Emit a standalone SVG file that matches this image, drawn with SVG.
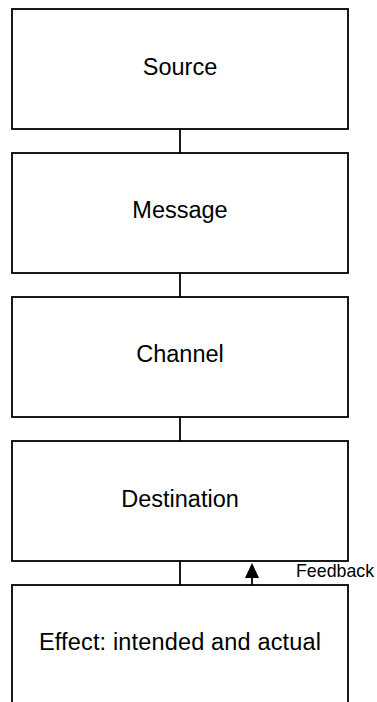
<svg xmlns="http://www.w3.org/2000/svg" width="377" height="702" viewBox="0 0 377 702">
<style>
.box{fill:#fff;stroke:#000;stroke-width:1.8}
.lbl{font-family:"Liberation Sans",Arial,sans-serif;font-size:23.5px;fill:#000;text-anchor:middle}
.fb{font-family:"Liberation Sans",Arial,sans-serif;font-size:17.8px;fill:#000}
.con{stroke:#000;stroke-width:1.8;fill:none}
</style>
<rect width="377" height="702" fill="#fff"/>
<g id="connectors">
<line class="con" x1="180" y1="129" x2="180" y2="153"/>
<line class="con" x1="180" y1="273" x2="180" y2="297"/>
<line class="con" x1="180" y1="417" x2="180" y2="441"/>
<line class="con" x1="180" y1="561" x2="180" y2="585"/>
<line class="con" x1="252" y1="585" x2="252" y2="577"/>
<path d="M245,578 L252,563 L259,578 Z" fill="#000"/>
<text class="fb" x="296" y="577">Feedback</text>
</g>
<g id="source">
<rect class="box" x="12" y="9" width="336" height="120"/>
<text class="lbl" x="180" y="75">Source</text>
</g>
<g id="message">
<rect class="box" x="12" y="153" width="336" height="120"/>
<text class="lbl" x="180" y="218">Message</text>
</g>
<g id="channel">
<rect class="box" x="12" y="297" width="336" height="120"/>
<text class="lbl" x="180" y="362">Channel</text>
</g>
<g id="destination">
<rect class="box" x="12" y="441" width="336" height="120"/>
<text class="lbl" x="180" y="507">Destination</text>
</g>
<g id="effect">
<rect class="box" x="12" y="585" width="336" height="120"/>
<text class="lbl" x="180" y="650" textLength="282" lengthAdjust="spacing">Effect: intended and actual</text>
</g>
</svg>
